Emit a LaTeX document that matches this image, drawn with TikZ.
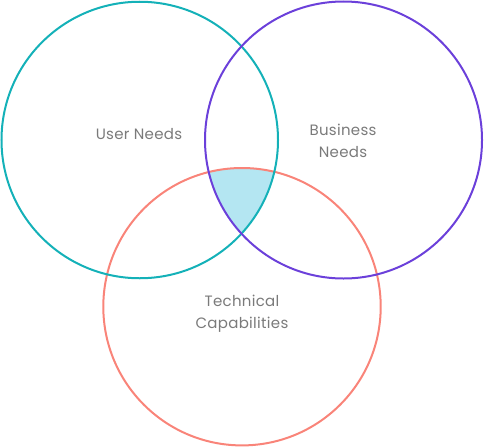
\documentclass[tikz,border=0pt]{standalone}
\usepackage{fontspec}
\setmainfont{Poppins}[LetterSpace=2]
\begin{document}
\begin{tikzpicture}[x=1pt,y=-1pt,
  ring/.style={line width=2pt},
  lbl/.style={text=labelgray,font=\fontsize{15}{21.5}\selectfont,align=center,inner sep=0pt}]
\definecolor{userc}{HTML}{14B1B8}
\definecolor{bizc}{HTML}{6B40DA}
\definecolor{techc}{HTML}{F98479}
\definecolor{overlap}{HTML}{B4E6F2}
\definecolor{labelgray}{HTML}{7A7A7A}
\useasboundingbox (0,0) rectangle (484,447);
% common area of all three sets
\begin{scope}
  \clip (139.75,140) circle (138.25);
  \clip (343.5,140) circle (138.5);
  \fill[overlap] (242,306.7) circle (138.7);
\end{scope}
\draw[ring,techc] (242,306.7) circle (138.7);
\draw[ring,userc] (139.75,140) circle (138.25);
\draw[ring,bizc] (343.5,140) circle (138.5);
\node[lbl] (user) at (139,134.5) {User Needs};
\node[lbl] (biz) at (343,141) {Business\\Needs};
\node[lbl] (tech) at (242,313.5) {Technical\\Capabilities};
\end{tikzpicture}
\end{document}
